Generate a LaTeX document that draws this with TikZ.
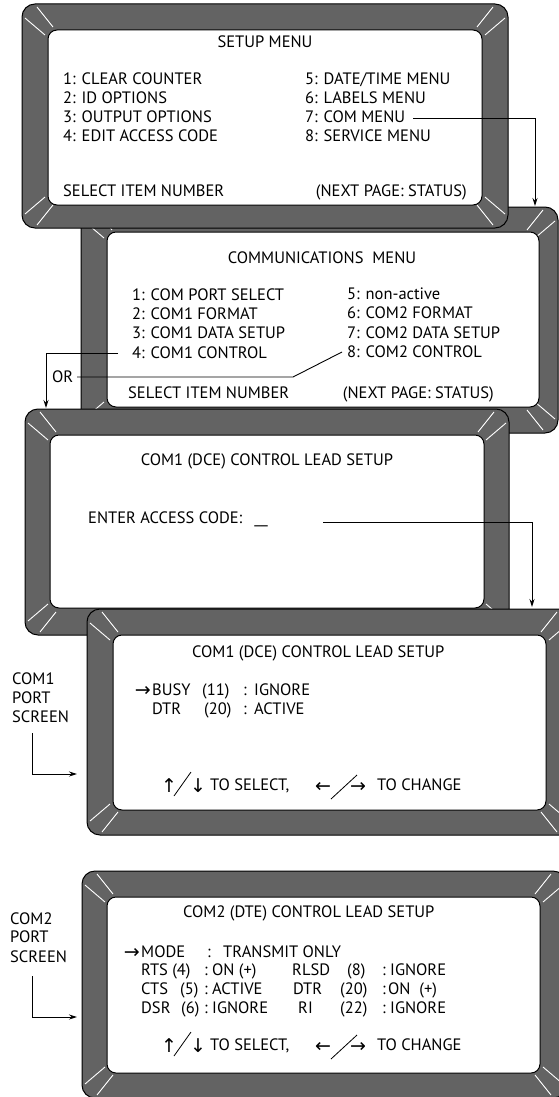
\documentclass[tikz,border=0pt]{standalone}
\usepackage{fontspec}
\setmainfont{PT Sans}
\newfontfamily\arrfont{DejaVu Sans}
\usetikzlibrary{arrows.meta,calc}
\definecolor{bezel}{RGB}{99,99,99}
\tikzset{
  txt/.style={anchor=base west, inner sep=0pt, font=\fontsize{16.5}{19}\selectfont},
  ctr/.style={txt, anchor=base},
  rgt/.style={txt, anchor=base east},
  glyph/.style={anchor=base west, inner sep=0pt, font=\arrfont\fontsize{19}{19}\selectfont},
  hl/.style={white, line width=0.9pt},
  outline/.style={draw=black, line width=1pt},
  conn/.style={black, line width=0.9pt},
  arr/.style={conn, -{Stealth[length=8pt,width=5pt]}},
  slash/.style={black, line width=0.8pt},
}
\newcommand\hlcorner[4]{\begin{scope}[shift={(#1,#2)},xscale=#3,yscale=#4]\draw[hl] (15,3)--(31,23) (3,14)--(23,31);\end{scope}}
\newcommand\bezelscreen[8]{%
  \draw[outline, fill=bezel, rounded corners=13pt] (#1,#2) rectangle (#3,#4);
  \hlcorner{#1}{#2}{1}{1}\hlcorner{#3}{#2}{-1}{1}\hlcorner{#1}{#4}{1}{-1}\hlcorner{#3}{#4}{-1}{-1}
  \draw[outline, fill=white, rounded corners=9pt] (#5,#6) rectangle (#7,#8);
}
\begin{document}
\begin{tikzpicture}[x=1pt,y=-1pt]
\useasboundingbox (0,0) rectangle (559,1097);
\clip (0,0) rectangle (559,1097);
\fill[white] (0,0) rectangle (559,1097);
% screens, back to front
\bezelscreen{81}{207}{558}{433}{107}{232}{539}{407}
\bezelscreen{22}{4}{508}{228}{48}{30}{482}{205}
\bezelscreen{25}{409}{509}{635}{50}{435}{484}{608}
\bezelscreen{87}{609}{572}{835}{113}{635}{546}{810}
\bezelscreen{82}{871}{566}{1098}{107}{897}{540}{1073}

% ---- screen 1: setup menu
\node[ctr] (s1t) at (265,48) {SETUP MENU};
\node[txt] (s1i1) at (63,85)  {1: CLEAR COUNTER};
\node[txt] (s1i2) at (63,104) {2: ID OPTIONS};
\node[txt] (s1i3) at (63,123) {3: OUTPUT OPTIONS};
\node[txt] (s1i4) at (63,142) {4: EDIT ACCESS CODE};
\node[txt] (s1i5) at (305,85)  {5: DATE/TIME MENU};
\node[txt] (s1i6) at (305,104) {6: LABELS MENU};
\node[txt] (s1i7) at (305,123) {7: COM MENU};
\node[txt] (s1i8) at (305,142) {8: SERVICE MENU};
\node[txt] (s1sel) at (63,196) {SELECT ITEM NUMBER};
\node[rgt] (s1nxt) at (467,196) {(NEXT PAGE: STATUS)};
\coordinate (c1a) at (413,118);
\coordinate (c1b) at (535,206);
\draw[arr] (c1a) -| (c1b);

% ---- screen 2: communications menu
\node[ctr] (s2t) at (322,263) {COMMUNICATIONS\ \ MENU};
\node[txt] (s2i1) at (132,300) {1: COM PORT SELECT};
\node[txt] (s2i2) at (132,319) {2: COM1 FORMAT};
\node[txt] (s2i3) at (132,338) {3: COM1 DATA SETUP};
\node[txt] (s2i4) at (132,358) {4: COM1 CONTROL};
\node[txt] (s2i5) at (347,299) {5: non-active};
\node[txt] (s2i6) at (347,318) {6: COM2 FORMAT};
\node[txt] (s2i7) at (347,338) {7: COM2 DATA SETUP};
\node[txt] (s2i8) at (347,357) {8: COM2 CONTROL};
\node[txt] (s2sel) at (128,398) {SELECT ITEM NUMBER};
\node[rgt] (s2nxt) at (494,398) {(NEXT PAGE: STATUS)};
\coordinate (c2a) at (118,353);
\coordinate (c2b) at (46,408);
\draw[arr] (c2a) -| (c2b);
\node[txt] (or) at (52,382) {OR};
\coordinate (c3a) at (77,377);
\coordinate (c3b) at (293,377);
\coordinate (c3c) at (342,352);
\draw[conn] (c3a) -- (c3b) -- (c3c);

% ---- screen 3: access code
\node[ctr] (s3t) at (267,465) {COM1 (DCE) CONTROL LEAD SETUP};
\node[txt] (s3e) at (88,523) {ENTER ACCESS CODE:\hspace{12pt}\_\_};
\coordinate (c4a) at (323,522);
\coordinate (c4b) at (532,607);
\draw[arr] (c4a) -| (c4b);

% ---- screen 4: COM1 port screen
\node[txt] (s4t) at (192,657) {COM1 (DCE) CONTROL LEAD SETUP};
\node[glyph, anchor=base east] (s4ar) at (151,696) {→};
\node[txt] (s4b1) at (152,695) {BUSY};
\node[txt] (s4b2) at (202,695) {(11)};
\node[txt] (s4b3) at (243,695) {:};
\node[txt] (s4b4) at (254,695) {IGNORE};
\node[txt] (s4d1) at (152,714) {DTR};
\node[txt] (s4d2) at (204,714) {(20)};
\node[txt] (s4d3) at (243,714) {:};
\node[txt] (s4d4) at (254,714) {ACTIVE};
\node[glyph] (s4up) at (161,792) {↑};
\node[glyph] (s4dn) at (190,792) {↓};
\draw[slash] (174,796) -- (191,772);
\node[txt] (s4sel) at (210,790) {TO SELECT,};
\node[glyph] (s4lf) at (315,792) {←};
\node[glyph] (s4rt) at (350,792) {→};
\draw[slash] (331,799) -- (357,775);
\node[txt] (s4chg) at (377,790) {TO CHANGE};
\node[txt] (l1a) at (12,684) {COM1};
\node[txt] (l1b) at (12,703) {PORT};
\node[txt] (l1c) at (12,722) {SCREEN};
\coordinate (c5a) at (32,733);
\coordinate (c5b) at (77,774);
\draw[arr] (c5a) |- (c5b);

% ---- screen 5: COM2 port screen
\node[txt] (s5t) at (183,917) {COM2 (DTE) CONTROL LEAD SETUP};
\node[glyph, anchor=base east] (s5ar) at (140,958) {→};
\node[txt] (s5m1) at (141,957) {MODE};
\node[txt] (s5m2) at (207,957) {:};
\node[txt] (s5m3) at (223,957) {TRANSMIT ONLY};
\node[txt] (s5r1) at (141,975) {RTS (4)};
\node[txt] (s5r2) at (204,975) {:};
\node[txt] (s5r3) at (212,975) {ON (+)};
\node[txt] (s5c1) at (141,994) {CTS};
\node[txt] (s5c2) at (180,994) {(5)};
\node[txt] (s5c3) at (204,994) {:};
\node[txt] (s5c4) at (212,994) {ACTIVE};
\node[txt] (s5d1) at (141,1013) {DSR};
\node[txt] (s5d2) at (181,1013) {(6)};
\node[txt] (s5d3) at (204,1013) {:};
\node[txt] (s5d4) at (212,1013) {IGNORE};
\node[txt] (s5l1) at (292,975) {RLSD};
\node[txt] (s5l2) at (347,975) {(8)};
\node[txt] (s5l3) at (382,975) {:};
\node[txt] (s5l4) at (390,975) {IGNORE};
\node[txt] (s5t1) at (293,994) {DTR};
\node[txt] (s5t2) at (340,994) {(20)};
\node[txt] (s5t3) at (382,994) {:};
\node[txt] (s5t4) at (388,994) {ON\ \ (+)};
\node[txt] (s5i1) at (298,1013) {RI};
\node[txt] (s5i2) at (340,1013) {(22)};
\node[txt] (s5i3) at (382,1013) {:};
\node[txt] (s5i4) at (390,1013) {IGNORE};
\node[glyph] (s5up) at (161,1052) {↑};
\node[glyph] (s5dn) at (190,1052) {↓};
\draw[slash] (174,1056) -- (191,1032);
\node[txt] (s5sel) at (210,1050) {TO SELECT,};
\node[glyph] (s5lf) at (315,1052) {←};
\node[glyph] (s5rt) at (350,1052) {→};
\draw[slash] (331,1059) -- (357,1035);
\node[txt] (s5chg) at (377,1050) {TO CHANGE};
\node[txt] (l2a) at (10,924) {COM2};
\node[txt] (l2b) at (10,942) {PORT};
\node[txt] (l2c) at (10,962) {SCREEN};
\coordinate (c6a) at (32,976);
\coordinate (c6b) at (77,1017);
\draw[arr] (c6a) |- (c6b);
\end{tikzpicture}
\end{document}
